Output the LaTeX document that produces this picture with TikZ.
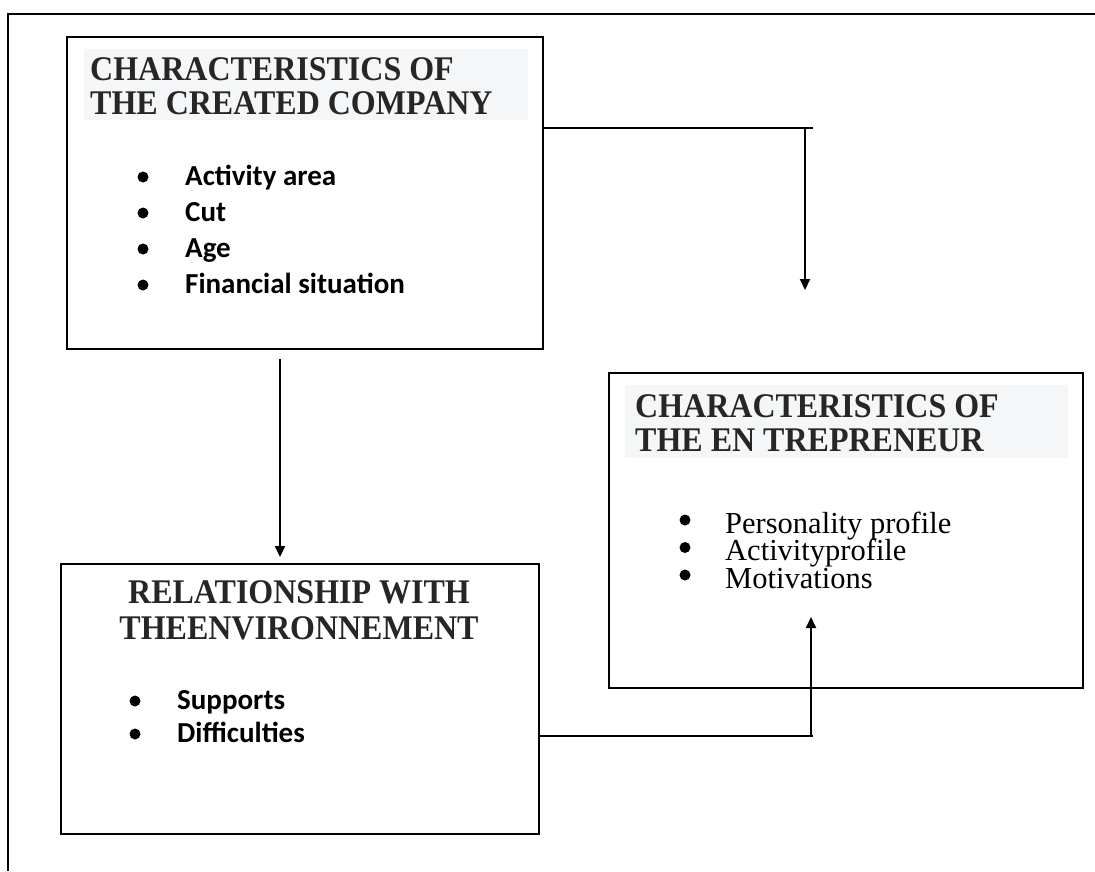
\documentclass[tikz,border=0pt]{standalone}
\usepackage{graphicx}
\usepackage{fontspec}
\setmainfont{Liberation Serif}
\newfontfamily\calibri{Carlito}
\usetikzlibrary{arrows.meta}
\definecolor{headbg}{RGB}{245,246,248}
\definecolor{headtext}{RGB}{38,38,38}
\newcommand{\tallhead}[1]{\scalebox{1}[1.08]{#1}}

\begin{document}
\begin{tikzpicture}[x=1pt, y=-1pt,
    box/.style={draw, line width=2pt, inner sep=0pt, anchor=north west},
    head/.style={font=\fontsize{32}{34}\selectfont\bfseries, text=headtext, inner sep=0pt, anchor=base west},
    item/.style={font=\calibri\bfseries\fontsize{29}{30}\selectfont, inner sep=0pt, anchor=base west},
    plainitem/.style={font=\fontsize{30.5}{31}\selectfont, inner sep=0pt, text height=21pt, text depth=6pt, anchor=base west},
    dot/.style={circle, fill, inner sep=0pt, minimum size=11pt},
    link/.style={line width=1.6pt},
    arrow/.style={line width=2pt, -{Triangle[length=11pt, width=10pt]}}]
    \useasboundingbox (0,0) rectangle (1095,871);
    \draw[line width=2pt] (8,871) -- (8,14) -- (1095,14);

    \node[box, minimum width=476pt, minimum height=312pt] (company) at (66,36) {};
    \fill[headbg] (84,49) rectangle (528,120);
    \node[head] (companyHead1) at (90,80) {\tallhead{CHARACTERISTICS OF}};
    \node[head] (companyHead2) at (90,114) {\tallhead{THE CREATED COMPANY}};
    \foreach \t [count=\i] in {Activity area, Cut, Age, Financial situation} {
      \node[dot] (companyDot\i) at (143,{177+36*(\i-1)}) {};
      \node[item] (companyItem\i) at (185,{185+36*(\i-1)}) {\t};
    }

    \node[box, minimum width=474pt, minimum height=315pt] (entrepreneur) at (608,372) {};
    \fill[headbg] (625,385) rectangle (1068,458);
    \node[head] (entrepreneurHead1) at (635,417) {\tallhead{CHARACTERISTICS OF}};
    \node[head] (entrepreneurHead2) at (635,451) {\tallhead{THE EN TREPRENEUR}};
    \foreach \t [count=\i] in {Personality profile, Activityprofile, Motivations} {
      \node[dot] (entrepreneurDot\i) at (685,{520+27.5*(\i-1)}) {};
      \node[plainitem] (entrepreneurItem\i) at (725,{533+27.5*(\i-1)}) {\t};
    }

    \node[box, minimum width=478pt, minimum height=270pt] (environment) at (60,563) {};
    \node[head, anchor=base] (environmentHead1) at (299,603) {\tallhead{RELATIONSHIP WITH}};
    \node[head, anchor=base] (environmentHead2) at (299,639) {\tallhead{THEENVIRONNEMENT}};
    \foreach \t [count=\i] in {Supports, Difficulties} {
      \node[dot] (environmentDot\i) at (135,{701+33*(\i-1)}) {};
      \node[item] (environmentItem\i) at (177,{709+33*(\i-1)}) {\t};
    }

    \coordinate (kneeTop) at (813,128);
    \coordinate (tipTop) at (805,290);
    \draw[link] (company.east |- kneeTop) -- (kneeTop);
    \draw[arrow] (tipTop |- kneeTop) -- (tipTop);

    \coordinate (downLine) at (280,0);
    \draw[arrow, shorten <=9pt, shorten >=6pt] (company.south -| downLine) -- (environment.north -| downLine);

    \coordinate (kneeLow) at (813,736);
    \coordinate (tipLow) at (811,617);
    \draw[link] (environment.east |- kneeLow) -- (kneeLow);
    \draw[arrow] (tipLow |- kneeLow) -- (tipLow);
  \end{tikzpicture}
\end{document}
